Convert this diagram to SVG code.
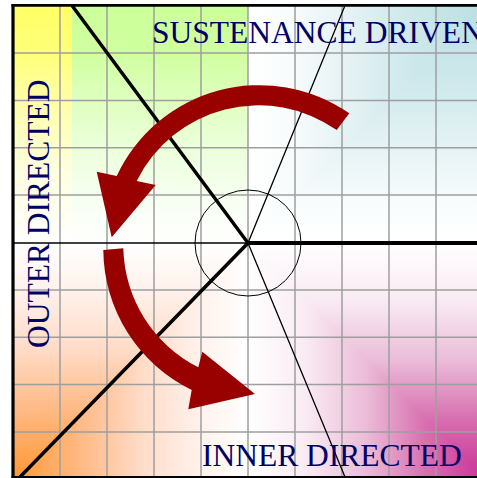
<svg xmlns="http://www.w3.org/2000/svg" width="477" height="478" viewBox="0 0 477 478">
<defs>
<linearGradient id="gY" gradientUnits="userSpaceOnUse" x1="0" y1="6" x2="0" y2="243">
<stop offset="0" stop-color="#ffff66"/><stop offset="0.2" stop-color="#ffff7a"/><stop offset="0.4" stop-color="#ffffa8"/><stop offset="0.7" stop-color="#ffffe0"/><stop offset="1" stop-color="#ffffff"/>
</linearGradient>
<linearGradient id="gG" gradientUnits="userSpaceOnUse" x1="0" y1="6" x2="0" y2="243">
<stop offset="0" stop-color="#ccff99"/><stop offset="0.2" stop-color="#d0ffa0"/><stop offset="0.4" stop-color="#dfffc0"/><stop offset="0.65" stop-color="#eeffe0"/><stop offset="0.85" stop-color="#f9fff5"/><stop offset="1" stop-color="#ffffff"/>
</linearGradient>
<linearGradient id="tH" gradientUnits="userSpaceOnUse" x1="484" y1="0" x2="248" y2="0">
<stop offset="0" stop-color="#bbdfe4"/><stop offset="0.3" stop-color="#cde8eb"/><stop offset="0.6" stop-color="#e6f3f5"/><stop offset="0.85" stop-color="#fafdfd"/><stop offset="1" stop-color="#ffffff"/>
</linearGradient>
<linearGradient id="tV" gradientUnits="userSpaceOnUse" x1="0" y1="6" x2="0" y2="243">
<stop offset="0" stop-color="#bbdfe4"/><stop offset="0.3" stop-color="#cde8eb"/><stop offset="0.6" stop-color="#e6f3f5"/><stop offset="0.85" stop-color="#fafdfd"/><stop offset="1" stop-color="#ffffff"/>
</linearGradient>
<linearGradient id="mH" gradientUnits="userSpaceOnUse" x1="484" y1="0" x2="248" y2="0">
<stop offset="0" stop-color="#cc3399"/><stop offset="0.25" stop-color="#d870b0"/><stop offset="0.5" stop-color="#ebbcd8"/><stop offset="0.75" stop-color="#f9eaf3"/><stop offset="1" stop-color="#ffffff"/>
</linearGradient>
<linearGradient id="mV" gradientUnits="userSpaceOnUse" x1="0" y1="477" x2="0" y2="243">
<stop offset="0" stop-color="#cc3399"/><stop offset="0.25" stop-color="#d870b0"/><stop offset="0.5" stop-color="#ebbcd8"/><stop offset="0.75" stop-color="#f9eaf3"/><stop offset="1" stop-color="#ffffff"/>
</linearGradient>
<linearGradient id="oH" gradientUnits="userSpaceOnUse" x1="13" y1="0" x2="248" y2="0">
<stop offset="0" stop-color="#ff9933"/><stop offset="0.3" stop-color="#ffbb88"/><stop offset="0.55" stop-color="#ffdcc8"/><stop offset="0.8" stop-color="#fff2ec"/><stop offset="1" stop-color="#ffffff"/>
</linearGradient>
<linearGradient id="oV" gradientUnits="userSpaceOnUse" x1="0" y1="477" x2="0" y2="243">
<stop offset="0" stop-color="#ff9933"/><stop offset="0.3" stop-color="#ffbb88"/><stop offset="0.55" stop-color="#ffdcc8"/><stop offset="0.8" stop-color="#fff2ec"/><stop offset="1" stop-color="#ffffff"/>
</linearGradient>
</defs>
<style>
.grid{stroke:#9e9e9e;stroke-width:1.5;fill:none}
.thick{stroke:#000;stroke-width:3.5;fill:none}
.thin{stroke:#000;stroke-width:1.3;fill:none}
.lbl{font-family:"Liberation Serif","Times New Roman",serif;font-size:31.5px;fill:#000066}
.arrow{fill:#990000}
</style>
<rect width="477" height="478" fill="#ffffff"/>
<g id="background">
<rect x="13" y="5" width="59" height="238" fill="url(#gY)"/>
<rect x="72" y="5" width="176" height="238" fill="url(#gG)"/>
<rect x="248" y="5" width="236" height="238" fill="url(#tV)"/>
<polygon points="248,5 484,5 248,243" fill="url(#tH)"/>
<rect x="248" y="243" width="236" height="235" fill="url(#mH)"/>
<polygon points="248,243 484,243 484,477" fill="url(#mV)"/>
<rect x="13" y="243" width="235" height="235" fill="url(#oH)"/>
<polygon points="13,243 248,243 13,477" fill="url(#oV)"/>
</g>
<g id="grid" class="grid">
<path d="M60 5V477M107 5V477M154 5V477M201 5V477M248 5V477M295 5V477M342 5V477M389 5V477M436 5V477"/>
<path d="M13 53H484M13 100.4H484M13 147.8H484M13 195.1H484M13 289.9H484M13 337.3H484M13 384.6H484M13 432H484"/>
</g>
<g id="frame">
<path d="M13 4V478" stroke="#000" stroke-width="3.2"/>
<path d="M11.5 5.4H484" stroke="#000" stroke-width="2.6"/>
<path d="M11.5 477.2H484" stroke="#000" stroke-width="2.4"/>
</g>
<g id="connectors">
<path class="thick" d="M72 5.5L248 243L20 477"/>
<path d="M248 243H484" stroke="#000" stroke-width="4"/>
<path d="M13 243H248" stroke="#000" stroke-width="1.5"/>
<path class="thin" d="M345 5.5L248 243L345 477"/>
<circle cx="248" cy="243" r="53" fill="none" stroke="#000" stroke-width="1"/>
</g>
<g id="label-sustenance"><text class="lbl" x="152" y="43">SUSTENANCE DRIVEN</text></g>
<g id="label-inner"><text class="lbl" x="202" y="466">INNER DIRECTED</text></g>
<g id="label-outer"><text class="lbl" transform="translate(49,348) rotate(-90)">OUTER DIRECTED</text></g>
<g id="arrow-upper"><path class="arrow" d="M349.3 113.3A157.5 157.5 0 0 0 116.7 176L96.7 171.7L111.7 237.3L155.7 185L136.7 181A136 136 0 0 1 336.7 130Z"/></g>
<g id="arrow-lower"><path class="arrow" d="M103.3 250A157 157 0 0 0 191.7 390L188.3 409.3L255 394L202.3 351.7L198.3 367.3A137 137 0 0 1 123.3 248.3Z"/></g>
</svg>
